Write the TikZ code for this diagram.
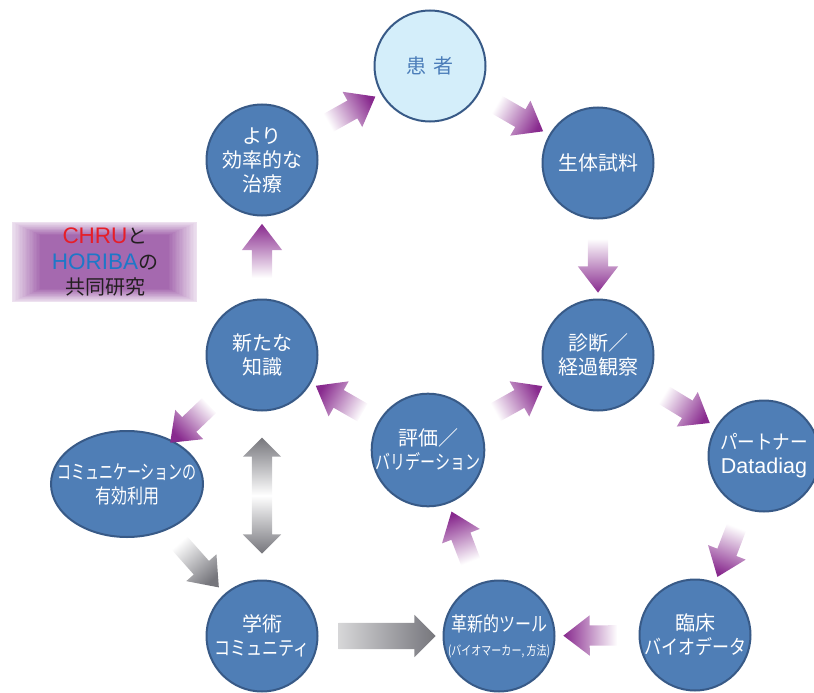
\documentclass[tikz,border=0pt]{standalone}
\usepackage{fontspec}
\usepackage{graphicx}
\setmainfont{Noto Sans CJK JP}
\newfontfamily\lat{Liberation Sans}
\usetikzlibrary{shapes.arrows,shapes.geometric,calc}
\definecolor{cfill}{RGB}{79,126,182}
\definecolor{cedge}{RGB}{56,90,135}
\definecolor{kfill}{RGB}{212,238,250}
\definecolor{ktext}{RGB}{75,125,185}
\definecolor{purp}{RGB}{136,42,142}
\definecolor{gry}{RGB}{118,118,124}
\definecolor{chru}{RGB}{230,30,40}
\definecolor{hor}{RGB}{30,120,200}
\definecolor{boxc}{RGB}{165,105,175}
\definecolor{boxtext}{RGB}{35,31,32}
\newcommand\sx[2]{\scalebox{#1}[1]{#2}}
\newcommand\flowarrow[3]{%
  \path let \p1=(#1), \p2=(#2), \n1={atan2(\y2-\y1,\x2-\x1)}, \n2={\n1-90} in
    node[#3, rotate=\n1, shading angle=\n2] at ($(#1)!0.5!(#2)$) {};}
\tikzset{
  circ/.style={circle, minimum size=111pt, inner sep=0pt, fill=cfill, draw=cedge,
    line width=2pt, text=white, font=\fontsize{20}{24}\selectfont, align=center},
  kanja/.style={circ, fill=kfill, text=ktext},
  comm/.style={ellipse, minimum width=152pt, minimum height=106pt, inner sep=0pt,
    fill=cfill, draw=cedge, line width=2pt},
  parrow/.style={single arrow, draw=none, minimum height=54pt, minimum width=40pt,
    single arrow head extend=10pt, single arrow tip angle=75, inner xsep=0pt,
    inner ysep=10pt, top color=purp, bottom color=white},
  garrow/.style={parrow, top color=gry, bottom color=white, minimum height=60pt},
  glong/.style={parrow, top color=gry, bottom color=gry!30!white, minimum height=97pt,
    minimum width=42pt, inner ysep=13pt, single arrow head extend=8pt, single arrow tip angle=90},
  gdouble/.style={double arrow, draw=none, minimum height=116pt, minimum width=38pt,
    double arrow head extend=9pt, double arrow tip angle=90, inner xsep=0pt, inner ysep=10pt,
    top color=gry, bottom color=gry, middle color=white},
}
\begin{document}
\begin{tikzpicture}[x=1pt,y=-1pt]
\useasboundingbox (0,0) rectangle (814,693);
% collaboration box
\foreach \i in {0,...,20}{%
  \pgfmathsetmacro\t{\i/20}\pgfmathsetmacro\p{20+80*\t}%
  \fill[boxc!\p!white] ({12+28*\t},{222+13*\t}) rectangle ({197-28*\t},{302-13*\t});}
\node[align=center, text=boxtext, font=\fontsize{20}{25.5}\selectfont] (collab) at (105,262)
  {{\lat\fontsize{22.5}{25.5}\selectfont\color{chru}CHRU}と\\
   {\lat\fontsize{22.5}{25.5}\selectfont\color{hor}HORIBA}の\\
   共同研究};
% circles
\node[circ] (zr) at (262,160) {より\\効率的な\\治療};
\node[kanja] (kj) at (430,66) {患\hspace{0.4em}者};
\node[circ] (sb) at (598,163) {生体試料};
\node[circ] (sd) at (598,355) {診断／\\経過観察};
\node[circ] (pt) at (764,456) {\sx{0.88}{パートナー}\\{\lat\fontsize{21.5}{24}\selectfont Datadiag}};
\node[circ] (rs) at (695,635) {臨床\\\sx{0.85}{バイオデータ}};
\node[circ] (kt) at (499,636) {\sx{0.8}{革新的ツール}\\{\fontsize{13}{15}\selectfont\sx{0.77}{(バイオマーカー, 方法)}}};
\node[circ] (hk) at (428,450) {評価／\\\sx{0.75}{バリデーション}};
\node[circ] (ac) at (262,636) {学術\\\sx{0.8}{コミュニティ}};
\node[circ] (nk) at (262,355) {新たな\\知識};
\node[comm, label={[text=white, font=\fontsize{20}{24}\selectfont, align=center]center:{\sx{0.7}{コミュニケーションの}\\\sx{0.8}{有効利用}}}] (cm) at (127,484) {};
% arrows
\flowarrow{zr}{kj}{parrow}
\flowarrow{kj}{sb}{parrow}
\flowarrow{sb}{sd}{parrow}
\flowarrow{sd}{pt}{parrow}
\flowarrow{pt}{rs}{parrow}
\flowarrow{rs}{kt}{parrow}
\flowarrow{kt}{hk}{parrow}
\flowarrow{hk}{sd}{parrow}
\flowarrow{hk}{nk}{parrow}
\flowarrow{nk}{zr}{parrow}
\flowarrow{nk}{cm}{parrow}
\flowarrow{cm}{ac}{garrow}
\flowarrow{ac}{kt}{glong}
\flowarrow{nk}{ac}{gdouble}
\end{tikzpicture}
\end{document}
